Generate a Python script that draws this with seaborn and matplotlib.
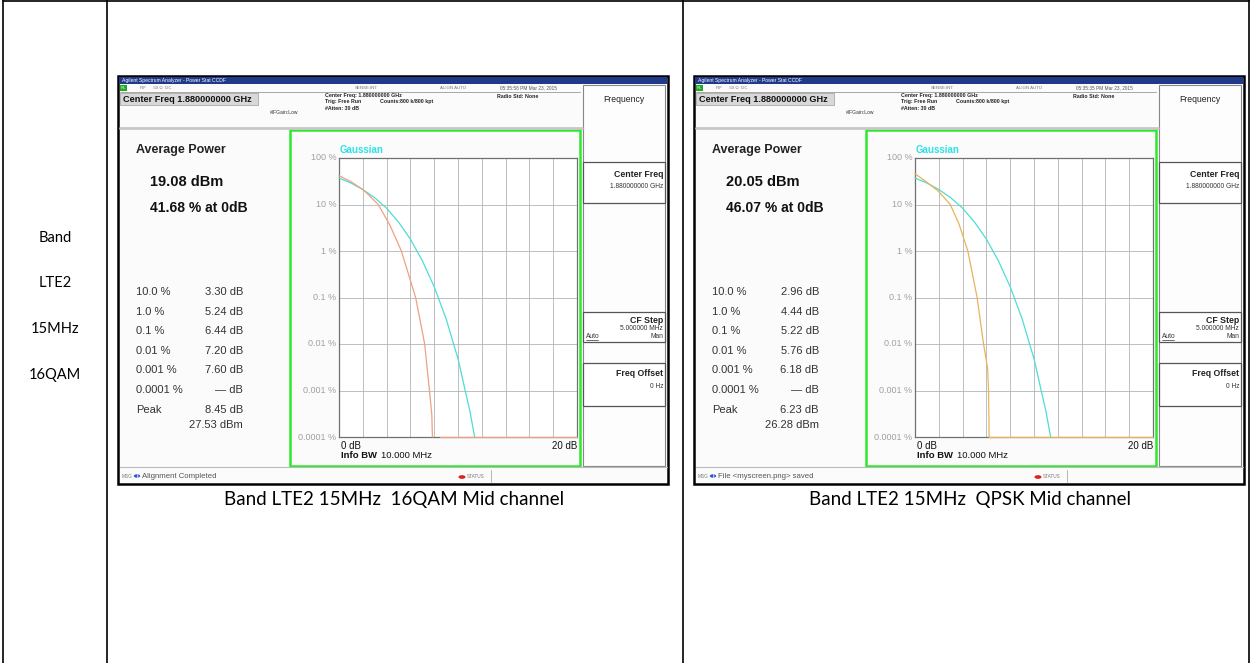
import numpy as np
import pandas as pd
import matplotlib
matplotlib.use("Agg")
import matplotlib.pyplot as plt
import seaborn as sns
from matplotlib.patches import Rectangle, Circle
from matplotlib.lines import Line2D

gauss_db = [0, 1, 2, 3, 4, 5, 6, 7, 8, 9, 10, 11, 11.4]
gauss_pct = [37, 29, 21, 14, 8.3, 4.2, 1.8, 0.62, 0.17, 0.035, 0.0048, 0.00036, 0.0001]

qam16_db = [0, 1, 2, 2.5, 3.30, 4.3, 5.24, 6.44, 7.20, 7.60, 7.80, 7.85]
qam16_pct = [41.68, 31, 21, 16, 10, 3.5, 1, 0.1, 0.01, 0.001, 0.0003, 0.0001]
qam16_floor_db = [8.45, 20]

qpsk_db = [0, 1, 2, 2.96, 3.7, 4.44, 5.22, 5.76, 6.10, 6.18, 6.23]
qpsk_pct = [46.07, 30, 19, 10, 3.8, 1, 0.1, 0.01, 0.003, 0.001, 0.0001]
qpsk_floor_db = [6.23, 20]
floor_pct = 0.0001

prob_labels = ["10.0 %", "1.0 %", "0.1 %", "0.01 %", "0.001 %", "0.0001 %", "Peak"]
qam16_table = ["3.30 dB", "5.24 dB", "6.44 dB", "7.20 dB", "7.60 dB", "— dB", "8.45 dB"]
qpsk_table = ["2.96 dB", "4.44 dB", "5.22 dB", "5.76 dB", "6.18 dB", "— dB", "6.23 dB"]

screens = [
    dict(name="16QAM", avg="19.08 dBm", at0="41.68 % at 0dB", table=qam16_table,
         peak="27.53 dBm", db=qam16_db, pct=qam16_pct, floor=qam16_floor_db,
         color="#f0a080", msg="Alignment Completed", time="05:35:58 PM Mar 23, 2015",
         caption="Band LTE2 15MHz  16QAM Mid channel"),
    dict(name="QPSK", avg="20.05 dBm", at0="46.07 % at 0dB", table=qpsk_table,
         peak="26.28 dBm", db=qpsk_db, pct=qpsk_pct, floor=qpsk_floor_db,
         color="#e8b45a", msg="File <myscreen.png> saved", time="05:35:35 PM Mar 23, 2015",
         caption="Band LTE2 15MHz  QPSK Mid channel"),
]
left_col = ["Band", "LTE2", "15MHz", "16QAM"]
y_ticks = [1e-4, 1e-3, 1e-2, 1e-1, 1, 10, 100]
y_tick_labels = ["0.0001 %", "0.001 %", "0.01 %", "0.1 %", "1 %", "10 %", "100 %"]

sns.set_style("white")
plt.rcParams["font.family"] = ["Liberation Sans", "DejaVu Sans"]

W, H = 1251, 663
fig = plt.figure(figsize=(W / 100, H / 100), dpi=100)
fig.patch.set_facecolor("white")


def fx(x):
    return x / W


def fy(y):
    return 1 - y / H


def rect(x0, y0, x1, y1, **kw):
    fig.add_artist(Rectangle((fx(x0), fy(y1)), (x1 - x0) / W, (y1 - y0) / H,
                             transform=fig.transFigure, **kw))


def line(x0, y0, x1, y1, **kw):
    fig.add_artist(Line2D([fx(x0), fx(x1)], [fy(y0), fy(y1)],
                          transform=fig.transFigure, **kw))


def txt(x, y, s, **kw):
    kw.setdefault("va", "center")
    return fig.text(fx(x), fy(y), s, **kw)


WORD = ["Lato", "DejaVu Sans"]

# ---- outer document table ----
line(3, 1, 1249, 1, color="black", lw=1.2)
for xv in [3, 107, 683, 1249]:
    line(xv, 0, xv, H, color="black", lw=1.2)
for s, yy in zip(left_col, [238, 283, 329, 375]):
    txt(55, yy, s, ha="center", fontsize=10.5, family=WORD, color="black")


def draw_screen(ox, sc):
    top, bot = 76, 484
    # frame and background
    rect(ox + 118, top, ox + 668, bot, facecolor="#fbfbfb", edgecolor="black", lw=1.8)
    # title bar
    rect(ox + 119, top + 1, ox + 667, top + 8, facecolor="#1f3a8a", edgecolor="none")
    txt(ox + 122, top + 4.5, "Agilent Spectrum Analyzer - Power Stat CCDF", fontsize=3.6,
        color="white", ha="left")
    # status row
    rect(ox + 120, top + 9, ox + 127, top + 15, facecolor="#22aa22", edgecolor="none")
    txt(ox + 123.5, top + 12, "RL", fontsize=3, color="white", ha="center")
    txt(ox + 140, top + 12, "RF      50 Ω  DC", fontsize=3.2, color="#777", ha="left")
    txt(ox + 355, top + 12, "SENSE:INT", fontsize=3.2, color="#777", ha="left")
    txt(ox + 440, top + 12, "ALIGN AUTO", fontsize=3.2, color="#777", ha="left")
    txt(ox + 500, top + 12, sc["time"], fontsize=3.4, color="#555", ha="left")
    line(ox + 120, top + 16, ox + 580, top + 16, color="#999", lw=0.6)
    # center freq box
    rect(ox + 120, top + 17, ox + 258, top + 29, facecolor="#d8d8d8", edgecolor="#aaa", lw=0.6)
    txt(ox + 123, top + 23, "Center Freq 1.880000000 GHz", fontsize=6.6, weight="bold",
        color="#111", ha="left")
    txt(ox + 270, top + 36, "#IFGain:Low", fontsize=3.6, color="#333", ha="left")
    txt(ox + 325, top + 20, "Center Freq: 1.880000000 GHz", fontsize=3.8, weight="bold",
        color="#222", ha="left")
    txt(ox + 325, top + 26, "Trig: Free Run", fontsize=3.8, weight="bold", color="#222", ha="left")
    txt(ox + 325, top + 32, "#Atten: 30 dB", fontsize=3.8, weight="bold", color="#222", ha="left")
    txt(ox + 380, top + 26, "Counts:800 k/800 kpt", fontsize=3.8, weight="bold",
        color="#222", ha="left")
    txt(ox + 497, top + 20, "Radio Std: None", fontsize=3.8, weight="bold", color="#222", ha="left")
    line(ox + 120, 128, ox + 582, 128, color="#c8c8c8", lw=2)

    # right soft-key panel
    rect(ox + 583, top + 9, ox + 665, 466, facecolor="#fdfdfd", edgecolor="#888", lw=0.8)
    txt(ox + 624, top + 23, "Frequency", fontsize=6.2, color="#222", ha="center")
    rect(ox + 583, 162, ox + 665, 203, facecolor="white", edgecolor="#555", lw=0.9)
    txt(ox + 663, 175, "Center Freq", fontsize=6.3, weight="bold", color="#222", ha="right")
    txt(ox + 663, 187, "1.880000000 GHz", fontsize=4.8, color="#333", ha="right")
    rect(ox + 583, 312, ox + 665, 342, facecolor="white", edgecolor="#555", lw=0.9)
    txt(ox + 663, 320, "CF Step", fontsize=6.3, weight="bold", color="#222", ha="right")
    txt(ox + 663, 329, "5.000000 MHz", fontsize=4.8, color="#333", ha="right")
    txt(ox + 586, 337, "Auto", fontsize=4.8, color="#333", ha="left")
    line(ox + 586, 340, ox + 598, 340, color="#333", lw=0.5)
    txt(ox + 663, 337, "Man", fontsize=4.8, color="#333", ha="right")
    rect(ox + 583, 363, ox + 665, 406, facecolor="white", edgecolor="#555", lw=0.9)
    txt(ox + 663, 374, "Freq Offset", fontsize=6.3, weight="bold", color="#222", ha="right")
    txt(ox + 663, 386, "0 Hz", fontsize=4.8, color="#333", ha="right")

    # left result panel
    txt(ox + 136, 150, "Average Power", fontsize=9, weight="bold", color="#222", ha="left")
    txt(ox + 150, 182, sc["avg"], fontsize=10.5, weight="bold", color="#111", ha="left")
    txt(ox + 150, 208, sc["at0"], fontsize=10, weight="bold", color="#111", ha="left")
    for i, (lab, val) in enumerate(zip(prob_labels, sc["table"])):
        yy = 292 + i * 19.6
        txt(ox + 136, yy, lab, fontsize=8, color="#333", ha="left")
        txt(ox + 243, yy, val, fontsize=8, color="#333", ha="right")
    txt(ox + 243, 425, sc["peak"], fontsize=8, color="#333", ha="right")

    # green measurement window
    rect(ox + 290, 130, ox + 580, 466, facecolor="none", edgecolor="#2ee82e", lw=1.8)
    txt(ox + 340, 150, "Gaussian", fontsize=7, weight="bold", color="#2fe0e8", ha="left")

    # CCDF plot through seaborn
    ax = fig.add_axes([fx(ox + 339), fy(437), (577 - 339) / W, (437 - 158) / H])
    ax.set_zorder(3)
    df = pd.concat([
        pd.DataFrame({"db": gauss_db, "pct": gauss_pct, "trace": "Gaussian", "seg": 0}),
        pd.DataFrame({"db": sc["db"], "pct": sc["pct"], "trace": "Measured", "seg": 1}),
        pd.DataFrame({"db": sc["floor"], "pct": [floor_pct] * len(sc["floor"]),
                      "trace": "Measured", "seg": 2}),
    ], ignore_index=True)
    sns.lineplot(data=df, x="db", y="pct", hue="trace", units="seg", estimator=None,
                 sort=False, palette={"Gaussian": "#4fdcd4", "Measured": sc["color"]},
                 linewidth=0.9, legend=False, ax=ax)
    for ln in ax.get_lines():
        ln.set_clip_on(False)
        ln.set_zorder(4)
    ax.set_yscale("log")
    ax.set_xlim(0, 20)
    ax.set_ylim(1e-4, 100)
    ax.set_xticks(np.arange(0, 21, 2))
    ax.set_yticks(y_ticks)
    ax.minorticks_off()
    ax.set_xticklabels([])
    ax.set_yticklabels([])
    ax.tick_params(length=0)
    ax.grid(True, color="#b4b4b4", lw=0.6)
    ax.set_xlabel("")
    ax.set_ylabel("")
    ax.set_facecolor("white")
    for sp in ax.spines.values():
        sp.set_color("#707070")
        sp.set_linewidth(0.9)
    for t, lab in zip(y_ticks, y_tick_labels):
        ax.text(-0.012, t, lab, transform=ax.get_yaxis_transform(), ha="right", va="center",
                fontsize=6.5, color="#a0a0a0")
    txt(ox + 341, 446, "0 dB", fontsize=7, color="#111", ha="left")
    txt(ox + 577, 446, "20 dB", fontsize=7, color="#111", ha="right")
    txt(ox + 341, 456, "Info BW", fontsize=6.8, weight="bold", color="#111", ha="left")
    txt(ox + 381, 456, "10.000 MHz", fontsize=6.8, color="#111", ha="left")

    # status bar
    line(ox + 120, 467, ox + 667, 467, color="#bbb", lw=0.8)
    txt(ox + 122, 476, "MSG", fontsize=3.4, color="#777", ha="left")
    fig.add_artist(Circle((fx(ox + 137), fy(476)), 3.2 / W, transform=fig.transFigure,
                          facecolor="#3355cc", edgecolor="none"))
    txt(ox + 137, 476, "i", fontsize=4, weight="bold", color="white", ha="center")
    txt(ox + 142, 476, sc["msg"], fontsize=5.6, color="#555", ha="left")
    fig.add_artist(Circle((fx(ox + 462), fy(477)), 3.5 / W, transform=fig.transFigure,
                          facecolor="#dd2222", edgecolor="none"))
    txt(ox + 467, 476, "STATUS", fontsize=3.4, color="#777", ha="left")
    line(ox + 491, 470, ox + 491, 482, color="#aaa", lw=0.6)

    # caption below the screenshot
    txt(ox + 394, 500, sc["caption"], fontsize=13.5, family=WORD, color="black", ha="center")


draw_screen(0, screens[0])
draw_screen(576, screens[1])

fig.savefig("out.png", dpi=100, facecolor="white")
